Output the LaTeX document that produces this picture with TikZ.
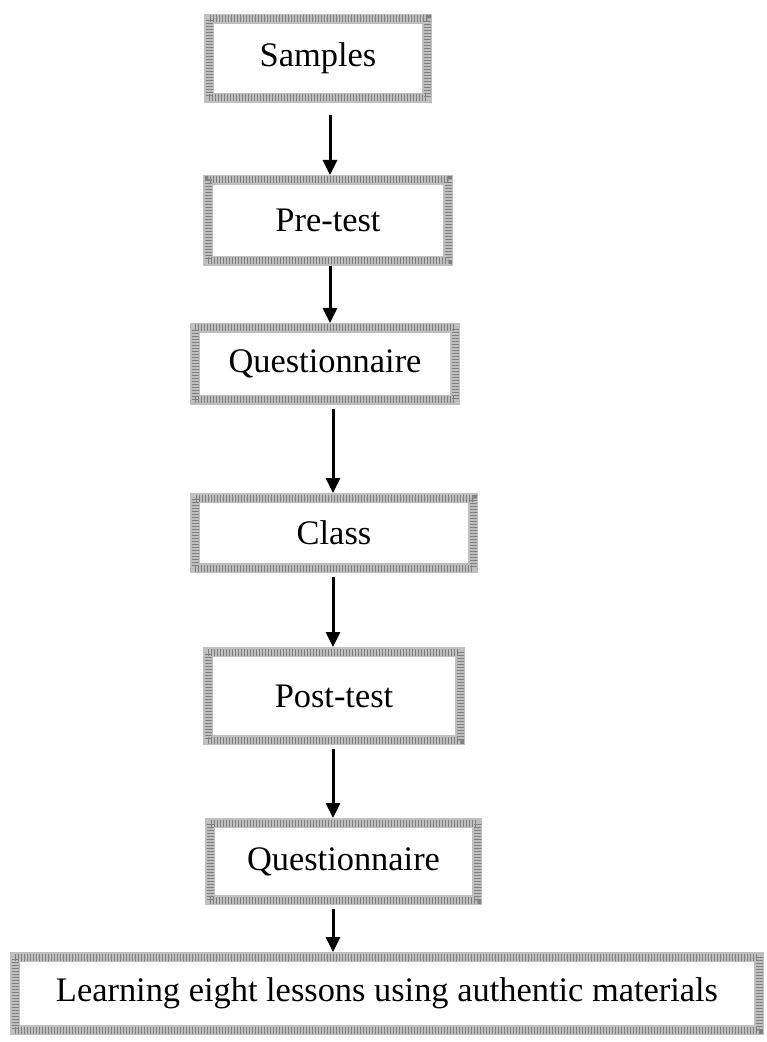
\documentclass[tikz,border=0pt]{standalone}
\usepackage{fontspec}
\setmainfont{Liberation Serif}
\usepackage{tikz}
\usetikzlibrary{arrows.meta}

\tikzset{
  caja/.style={draw=gray!50, line width=5pt, fill=white, inner sep=0pt,
    font=\fontsize{17.2}{20}\selectfont,
    postaction={draw=black!50, line width=3.5pt, dash pattern=on 0.4pt off 1.1pt}},
  flecha/.style={-{Triangle[length=7.5pt,width=7pt]}, line width=1.5pt}
}

\begin{document}
\begin{tikzpicture}[x=0.5pt, y=-0.5pt, >=Stealth]
                % Marco de la figura
                \useasboundingbox (0,0) rectangle (766,1042);

                % Cajas del procedimiento
                \node[caja, minimum width=109pt, minimum height=39.5pt] (samples) at (318,58.5) {Samples};
                \node[caja, minimum width=120pt, minimum height=40.5pt] (pretest) at (328,220.5) {Pre-test};
                \node[caja, minimum width=130pt, minimum height=36pt] (quest1) at (325,364) {Questionnaire};
                \node[caja, minimum width=139pt, minimum height=35pt] (class) at (334,533) {Class};
                \node[caja, minimum width=126pt, minimum height=44pt] (posttest) at (334,696) {Post-test};
                \node[caja, minimum width=133.5pt, minimum height=38.5pt] (quest2) at (343.5,861.5) {Questionnaire};
                \node[caja, minimum width=372pt, minimum height=36.5pt] (lessons) at (387,993.5) {Learning eight lessons using authentic materials};

                % Ejes de las flechas
                \coordinate (ea) at (330,0);
                \coordinate (eb) at (333,0);

                % Flechas entre las cajas
                \draw[flecha, shorten <=6pt] (samples.south -| ea) -- (pretest.north -| ea);
                \draw[flecha] (pretest.south -| ea) -- (quest1.north -| ea);
                \draw[flecha, shorten <=2pt] (quest1.south -| eb) -- (class.north -| eb);
                \draw[flecha, shorten <=2pt] (class.south -| eb) -- (posttest.north -| eb);
                \draw[flecha, shorten <=2pt] (posttest.south -| eb) -- (quest2.north -| eb);
                \draw[flecha, shorten <=2pt] (quest2.south -| eb) -- (lessons.north -| eb);
\end{tikzpicture}
\end{document}
